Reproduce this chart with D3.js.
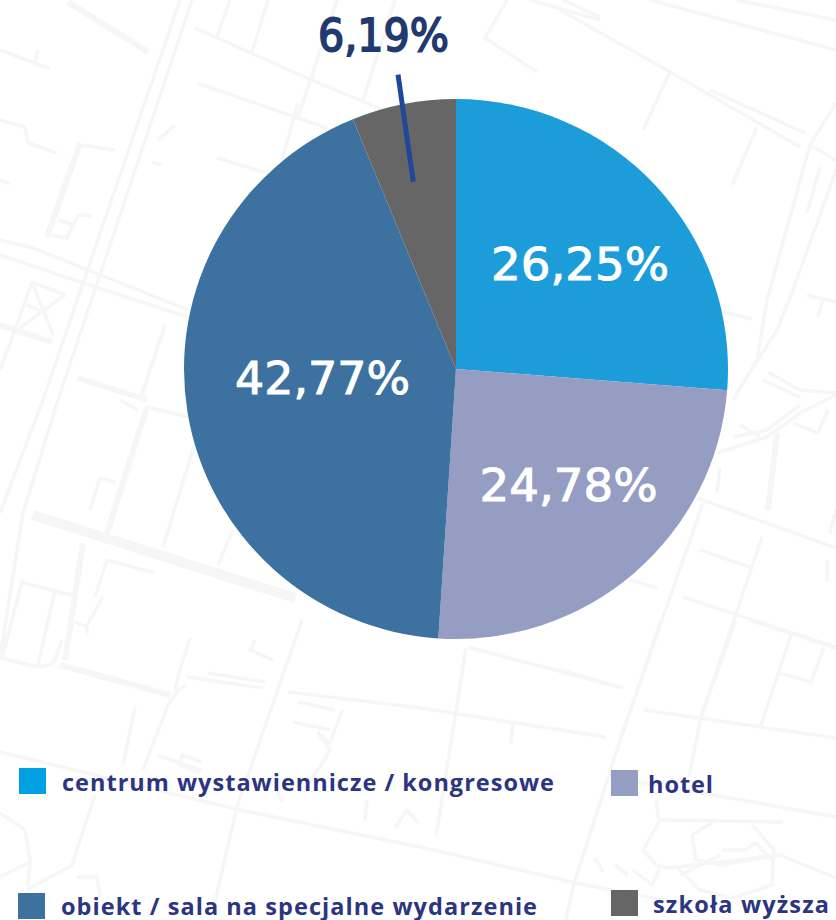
<!DOCTYPE html>
<html><head><meta charset="utf-8">
<script src="https://cdn.jsdelivr.net/npm/d3@7"></script>
<style>html,body{margin:0;padding:0;background:#fff}svg{display:block}</style>
</head><body><svg id="c" width="836" height="920"></svg>
<script>
const categories=["centrum wystawiennicze / kongresowe","hotel","obiekt / sala na specjalne wydarzenie","szkoła wyższa"];
const values=[26.25,24.78,42.77,6.19];
const labels=["26,25%","24,78%","42,77%","6,19%"];
const colors=["#1c9dda","#959dc3","#3d72a0","#666666"];
const legendColors=["#00a0e3","#959dc3","#3d72a0","#666666"];

// decorative street-map backdrop
const roadsThin=[
[[0,50],[50,69]],[[38,50],[35,62]],[[0,120],[25,127],[28,143],[57,153]],[[0,180],[10,184]],
[[195,28],[300,75],[390,113]],[[217,37],[230,0]],[[252,52],[268,0]],[[197,83],[327,128]],[[298,103],[282,160]],[[217,158],[267,173]],
[[337,0],[297,120]],[[395,0],[363,100]],[[507,0],[485,38],[537,72]],[[530,0],[600,20]],[[563,0],[600,17]],
[[175,125],[158,140]],[[152,162],[162,165]],[[80,145],[115,150]],[[52,235],[67,238],[78,215],[92,216]],[[58,220],[72,224]],
[[32,282],[65,295],[20,328]],[[32,282],[53,335]],[[32,282],[15,330],[0,370]],[[27,305],[43,312]],
[[165,325],[140,400]],[[180,0],[43,400],[0,513]],[[192,0],[58,400],[23,513],[0,657]],
[[0,240],[33,248],[88,270],[188,310]],[[0,255],[83,283],[188,317]],
[[120,400],[138,410]],[[147,407],[188,417]],[[100,478],[90,510]],[[100,478],[115,482]],
[[195,443],[163,547]],[[233,530],[218,565]],[[107,560],[155,573]],[[107,560],[95,597]],[[103,597],[87,625],[87,635]],[[75,622],[87,627]],
[[20,582],[75,596]],[[22,582],[2,658]],[[55,590],[38,665]],[[0,658],[38,667],[50,665],[55,660],[62,640]],
[[190,638],[180,670],[175,690]],[[208,673],[265,682]],[[187,677],[263,688]],[[187,685],[178,690],[168,705],[143,770]],
[[135,707],[123,765]],[[255,640],[250,650],[273,660]],[[302,620],[237,807],[213,910]],
[[0,752],[240,810],[420,847],[576,883],[690,905]],[[157,755],[200,770],[198,772],[180,765],[182,755],[202,762]],
[[288,692],[420,708],[606,737]],[[298,702],[335,710]],[[293,722],[330,730]],[[342,710],[330,743],[318,733],[330,750],[320,767],[303,790]],
[[468,647],[623,688]],[[466,648],[436,837]],[[513,723],[511,743]],[[661,620],[616,753],[573,887],[566,920]],
[[736,620],[701,717],[689,777]],[[644,710],[836,738]],[[749,620],[836,648]],[[791,635],[761,725]],[[824,647],[811,682],[779,673]],
[[629,780],[836,817]],[[659,820],[783,822]],[[656,800],[659,822],[643,850],[656,865],[668,868],[780,855],[836,878]],[[633,870],[652,885],[660,868]],
[[716,820],[692,835],[696,860],[720,865],[780,855]],[[752,825],[774,850],[772,885],[732,898],[700,890],[678,868]],[[720,855],[680,875]],[[722,850],[745,850],[755,843],[772,860]],
[[595,858],[603,872]],[[615,865],[628,875]],[[95,795],[72,865],[27,890]],[[77,877],[97,877],[100,897]],[[0,813],[25,830],[30,860],[28,887]],[[0,877],[28,863]],
[[367,800],[365,820]],[[395,828],[407,810],[418,823]],[[277,790],[282,802]],
[[560,10],[670,72],[800,147]],[[710,90],[805,133]],[[670,72],[643,130]],[[757,127],[732,185]],[[650,0],[836,50]],[[737,0],[836,20]],
[[810,145],[836,160]],[[836,103],[810,145],[767,300],[757,360],[733,400]],[[836,170],[793,290],[777,330],[753,367]],[[807,295],[836,302]],[[823,300],[818,317]],[[723,312],[752,319]],[[820,167],[807,213]],
[[768,372],[800,390],[836,393]],[[763,380],[800,397]],[[717,453],[767,437],[800,413],[836,395]],[[733,437],[767,430],[800,405]],[[740,425],[760,437]],[[793,423],[818,433],[828,410]],
[[720,467],[717,492]],[[836,510],[830,533]],[[697,498],[836,548]],[[703,503],[620,740]],[[700,550],[750,567]],[[762,537],[700,720],[697,740]],[[683,597],[836,647]],[[827,560],[827,582]],[[560,670],[623,688]],[[630,580],[657,588]]
];
const roadsWide=[
[[68,2],[148,52]],[[0,325],[52,342]],[[78,378],[147,400]],[[47,237],[80,143]],[[60,665],[170,695]],[[777,433],[768,510]],
[[147,407],[107,533]],[[83,543],[65,660]]
];
const roadsExtraWide=[[[33,515],[295,598]]];

const svg=d3.select("#c");
const road=d3.line();
[[roadsThin,3.5],[roadsWide,6],[roadsExtraWide,10]].forEach(([set,w])=>{
  svg.append("g").attr("fill","none").attr("stroke","#f6f6f6").attr("stroke-width",w)
     .attr("stroke-linejoin","round").selectAll("path").data(set).join("path").attr("d",road);
});

const cx=456,cy=369,R=272;
const pie=d3.pie().sort(null).value(d=>d)(values);
const arc=d3.arc().innerRadius(0).outerRadius(R);
const g=svg.append("g").attr("transform",`translate(${cx},${cy}) scale(1,0.9926)`);
g.selectAll("path").data(pie).join("path").attr("d",arc).attr("fill",(d,i)=>colors[i]);

// leader for the small slice
const small=pie[3], mid=(small.startAngle+small.endAngle)/2;
const pOut=d3.pointRadial(mid,300), pIn=d3.pointRadial(mid-0.03,192);
svg.append("line").attr("x1",cx+pOut[0]).attr("y1",cy+pOut[1]).attr("x2",cx+pIn[0]).attr("y2",cy+pIn[1])
   .attr("stroke","#20489a").attr("stroke-width",5);

// percentage labels
const labelX=[580,568.5,322.5,383.5], labelY=[280,501,394,51], labelW=[178,178,175,131], labelC=["#fff","#fff","#fff","#1f3a6e"];
svg.append("g").attr("font-family","'DejaVu Sans'").attr("font-size",45).attr("text-anchor","middle")
 .selectAll("text").data(labels).join("text")
 .attr("x",(d,i)=>labelX[i]).attr("y",(d,i)=>labelY[i])
 .attr("textLength",(d,i)=>labelW[i]).attr("lengthAdjust","spacingAndGlyphs")
 .attr("fill",(d,i)=>labelC[i]).attr("stroke",(d,i)=>labelC[i]).attr("stroke-width",(d,i)=>i==3?1.8:1)
 .text(d=>d);

// legend
const swX=[19,611,18,611], swY=[768,770,893,890], txtX=[62,648,61,653], txtY=[791,793,914.5,913], txtW=[492,65,476,176];
const lg=svg.append("g");
lg.selectAll("rect").data(categories).join("rect")
  .attr("x",(d,i)=>swX[i]).attr("y",(d,i)=>swY[i]).attr("width",27).attr("height",26).attr("fill",(d,i)=>legendColors[i]);
lg.selectAll("text").data(categories).join("text")
  .attr("x",(d,i)=>txtX[i]).attr("y",(d,i)=>txtY[i])
  .attr("font-family","'Open Sans'").attr("font-weight",700).attr("font-size",23.5).attr("fill","#2b3580")
  .attr("textLength",(d,i)=>txtW[i]).attr("lengthAdjust","spacing").text(d=>d);
</script></body></html>
